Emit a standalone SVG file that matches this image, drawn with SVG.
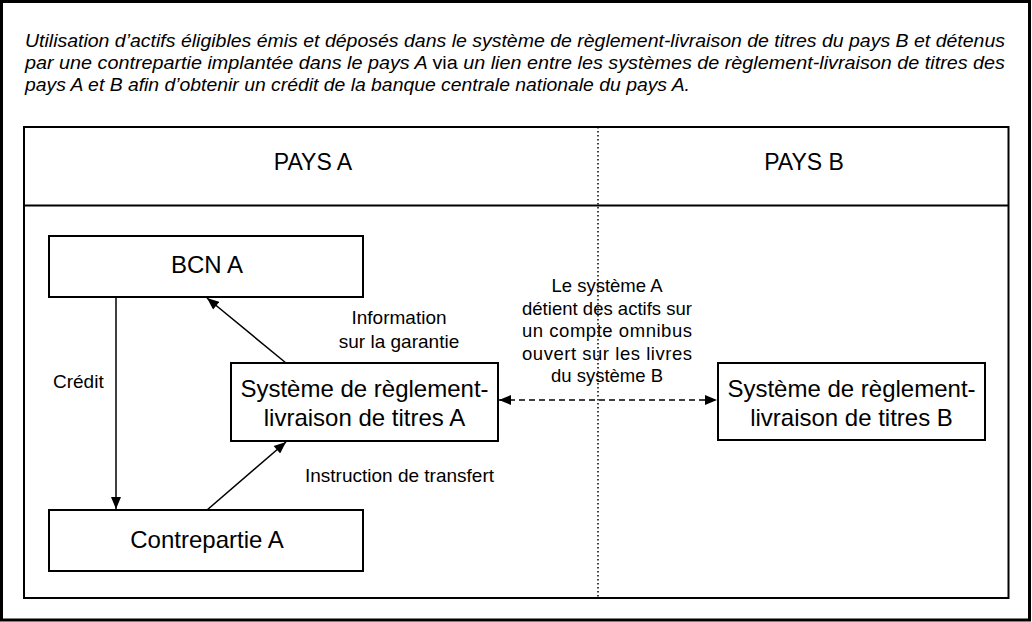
<svg xmlns="http://www.w3.org/2000/svg" width="1032" height="622" viewBox="0 0 1032 622">
<style>
.frame{fill:none;stroke:#000}
.box{fill:#fff;stroke:#000;stroke-width:2}
.t{font-family:"Liberation Sans",Arial,sans-serif;fill:#000}
.title{font-size:18px;font-style:italic}
.hdr{font-size:23px;text-anchor:middle}
.node{font-size:24px;text-anchor:middle}
.lbl{font-size:19px}
.mid{font-size:18.5px;text-anchor:middle}
.con{fill:none;stroke:#000;stroke-width:1.5}
</style>
<defs>
<marker id="ah" viewBox="0 0 12 10" refX="12" refY="5" markerWidth="13" markerHeight="10" markerUnits="userSpaceOnUse" orient="auto-start-reverse">
<path d="M0,0 L12,5 L0,10 Z" fill="#000"/>
</marker>
</defs>
<rect x="0" y="0" width="1032" height="622" fill="#fff"/>
<rect class="frame" x="1.5" y="1.5" width="1028" height="618.5" stroke-width="3"/>
<g id="title" class="t title">
<text x="25" y="47" textLength="980" lengthAdjust="spacingAndGlyphs">Utilisation d’actifs éligibles émis et déposés dans le système de règlement-livraison de titres du pays B et détenus</text>
<text x="25" y="69" textLength="980" lengthAdjust="spacingAndGlyphs">par une contrepartie implantée dans le pays A <tspan font-style="normal">via</tspan> un lien entre les systèmes de règlement-livraison de titres des</text>
<text x="25" y="91" textLength="665" lengthAdjust="spacingAndGlyphs">pays A et B afin d’obtenir un crédit de la banque centrale nationale du pays A.</text>
</g>
<g id="table">
<rect class="frame" x="24" y="127" width="984.5" height="471" stroke-width="2"/>
<line x1="24" y1="205.5" x2="1008.5" y2="205.5" stroke="#000" stroke-width="2"/>
<line x1="598" y1="127" x2="598" y2="598" stroke="#000" stroke-width="1.5" stroke-dasharray="1.5,2.5"/>
<text class="t hdr" x="313" y="170">PAYS A</text>
<text class="t hdr" x="804" y="170">PAYS B</text>
</g>
<g id="connectors">
<line class="con" x1="116" y1="297" x2="116" y2="509" marker-end="url(#ah)"/>
<line class="con" x1="286" y1="363" x2="207" y2="298" marker-end="url(#ah)"/>
<line class="con" x1="207" y1="510" x2="286" y2="442" marker-end="url(#ah)"/>
<line class="con" x1="499" y1="400" x2="717" y2="400" stroke-dasharray="6,4" marker-start="url(#ah)" marker-end="url(#ah)"/>
<text class="t lbl" x="53" y="388">Crédit</text>
<text class="t lbl" x="399" y="324" text-anchor="middle">Information</text>
<text class="t lbl" x="399" y="348" text-anchor="middle">sur la garantie</text>
<text class="t lbl" x="305" y="482">Instruction de transfert</text>
<text class="t mid" x="607" y="292">Le système A</text>
<text class="t mid" x="607" y="314.5" textLength="170" lengthAdjust="spacing">détient des actifs sur</text>
<text class="t mid" x="607" y="337" textLength="170" lengthAdjust="spacing">un compte omnibus</text>
<text class="t mid" x="607" y="359.5" textLength="170" lengthAdjust="spacing">ouvert sur les livres</text>
<text class="t mid" x="607" y="382">du système B</text>
</g>
<g id="bcn-a">
<rect class="box" x="49" y="236" width="314" height="61"/>
<text class="t node" x="207" y="273">BCN A</text>
</g>
<g id="contrepartie-a">
<rect class="box" x="49" y="510" width="314" height="61"/>
<text class="t node" x="207" y="548">Contrepartie A</text>
</g>
<g id="systeme-a">
<rect class="box" x="231" y="363" width="267" height="78"/>
<text class="t node" x="364.5" y="397">Système de règlement-</text>
<text class="t node" x="364.5" y="426">livraison de titres A</text>
</g>
<g id="systeme-b">
<rect class="box" x="718" y="363" width="267" height="77"/>
<text class="t node" x="851.5" y="397">Système de règlement-</text>
<text class="t node" x="851.5" y="426">livraison de titres B</text>
</g>
</svg>
